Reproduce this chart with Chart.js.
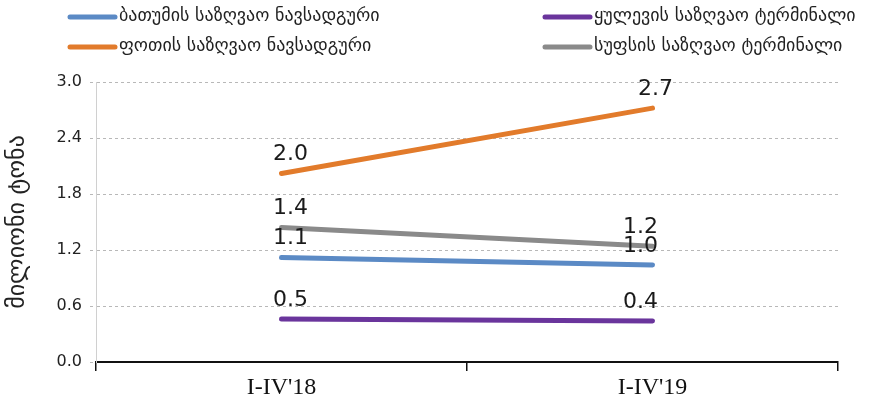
<!DOCTYPE html>
<html>
<head>
<meta charset="utf-8">
<script src="https://cdn.jsdelivr.net/npm/chart.js@4.4.1/dist/chart.umd.min.js"></script>
<style>
  html, body { margin: 0; padding: 0; background: #ffffff; }
  #wrap { width: 869px; height: 414px; position: relative; }
</style>
</head>
<body>
<div id="wrap"><canvas id="c" width="869" height="414"></canvas></div>
<script>
// Periods on the category axis
const periods = ["I-IV'18", "I-IV'19"];

// Cargo turnover, million tonnes
const batumiPort = [1.12, 1.04];
const kuleviTerminal = [0.46, 0.44];
const potiPort = [2.02, 2.72];
const supsaTerminal = [1.44, 1.24];

// Value axis ticks
const yTicks = [0, 0.6, 1.2, 1.8, 2.4, 3.0];

const seriesNames = [
  'ბათუმის საზღვაო ნავსადგური',
  'ყულევის საზღვაო ტერმინალი',
  'ფოთის საზღვაო ნავსადგური',
  'სუფსის საზღვაო ტერმინალი'
];

const colors = ['#5b8ac5', '#6a359c', '#e27b2b', '#8a8a8a'];

const FONT = "'DejaVu Sans', sans-serif";

// Legend in two columns above the plot
const legendPlugin = {
  id: 'twoColLegend',
  afterDraw(chart) {
    const ctx = chart.ctx;
    const cols = [{ x: 70 }, { x: 545 }];
    const rows = [17, 47];
    ctx.save();
    ctx.font = '18px ' + FONT;
    ctx.textBaseline = 'middle';
    ctx.textAlign = 'left';
    chart.data.datasets.forEach((ds, i) => {
      const cx = cols[i % 2].x;
      const cy = rows[Math.floor(i / 2)];
      ctx.strokeStyle = ds.borderColor;
      ctx.lineWidth = 5;
      ctx.lineCap = 'round';
      ctx.beginPath();
      ctx.moveTo(cx, cy);
      ctx.lineTo(cx + 45, cy);
      ctx.stroke();
      ctx.fillStyle = '#222';
      ctx.fillText(ds.label, cx + 49, cy - 1);
    });
    ctx.restore();
  }
};

// Value labels above each point
const valueLabels = {
  id: 'valueLabels',
  afterDatasetsDraw(chart) {
    const ctx = chart.ctx;
    ctx.save();
    ctx.font = '22px ' + FONT;
    ctx.fillStyle = '#1a1a1a';
    ctx.textAlign = 'center';
    ctx.textBaseline = 'bottom';
    chart.data.datasets.forEach((ds, di) => {
      const meta = chart.getDatasetMeta(di);
      meta.data.forEach((pt, i) => {
        let dx = i === 0 ? 9 : -12;
        if (di === 2 && i === 1) dx = 3;
        ctx.fillText(ds.data[i].toFixed(1), pt.x + dx, pt.y - 8);
      });
    });
    ctx.restore();
  }
};

const bgPlugin = {
  id: 'bg',
  beforeDraw(chart) {
    const ctx = chart.ctx;
    ctx.save();
    ctx.fillStyle = '#ffffff';
    ctx.fillRect(0, 0, chart.width, chart.height);
    ctx.restore();
  }
};

const values = [batumiPort, kuleviTerminal, potiPort, supsaTerminal];

new Chart(document.getElementById('c'), {
  type: 'line',
  data: {
    labels: periods,
    datasets: values.map((v, i) => ({
      label: seriesNames[i],
      data: v,
      borderColor: colors[i],
      backgroundColor: colors[i],
      borderWidth: 5,
      borderCapStyle: 'round',
      pointRadius: 0,
      tension: 0,
      fill: false
    }))
  },
  options: {
    responsive: false,
    animation: false,
    devicePixelRatio: 1,
    layout: { padding: { top: 82, right: 31, left: 0, bottom: 0 } },
    plugins: { legend: { display: false }, tooltip: { enabled: false } },
    scales: {
      x: {
        offset: true,
        grid: {
          offset: true,
          drawOnChartArea: false,
          drawTicks: true,
          tickLength: 9,
          color: '#111',
          lineWidth: 1.5
        },
        border: { display: true, color: '#111', width: 2 },
        ticks: {
          font: { family: "'Liberation Serif', serif", size: 24 },
          color: '#111',
          padding: 2
        },
        afterFit(s) { s.height = 52; }
      },
      y: {
        min: 0,
        max: 3,
        afterBuildTicks(s) { s.ticks = yTicks.map(v => ({ value: v })); },
        ticks: {
          callback: v => Number(v).toFixed(1),
          font: { family: FONT, size: 16 },
          color: '#222',
          padding: 8
        },
        grid: {
          color: '#b8b8b8',
          lineWidth: 1,
          tickLength: 6,
          tickBorderDash: [3, 3],
          drawTicks: true
        },
        border: { display: true, color: '#d0d0d0', width: 1, dash: [3, 3] },
        title: {
          display: true,
          text: 'მილიონი ტონა',
          font: { family: FONT, size: 24 },
          color: '#222',
          padding: 3
        },
        afterFit(s) { s.width = 96; }
      }
    }
  },
  plugins: [bgPlugin, legendPlugin, valueLabels]
});
</script>
</body>
</html>
